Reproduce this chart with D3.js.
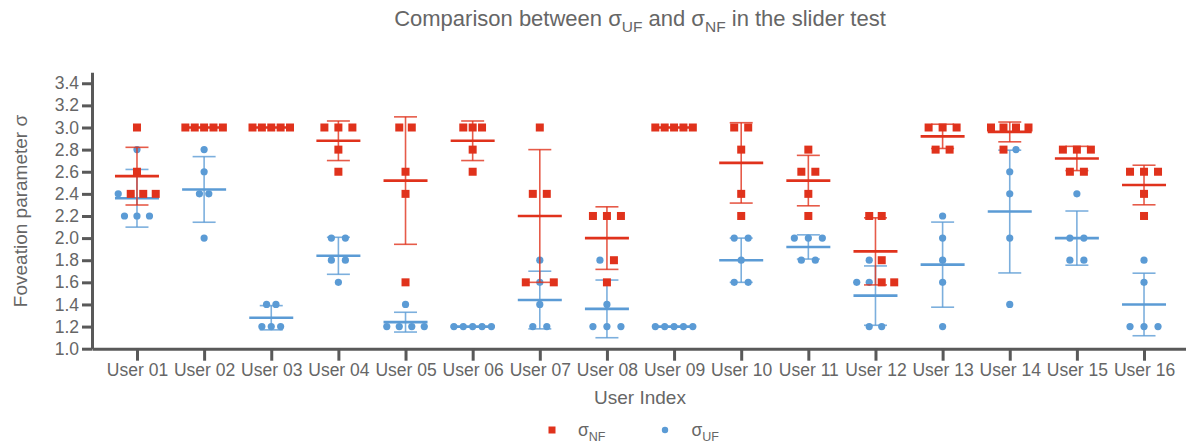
<!DOCTYPE html>
<html>
<head>
<meta charset="utf-8">
<script src="https://cdn.jsdelivr.net/npm/d3@7"></script>
<style>
  html, body { margin: 0; padding: 0; background: #fff; }
  svg { display: block; font-family: "Liberation Sans", Arial, Helvetica, sans-serif; }
</style>
</head>
<body>
<svg id="chart" width="1186" height="445"></svg>
<script>
// ---------- data ----------
const users = ["User 01","User 02","User 03","User 04","User 05","User 06","User 07","User 08",
               "User 09","User 10","User 11","User 12","User 13","User 14","User 15","User 16"];

// sigma_NF per user (5 trials each, trial order)
const nfValues = [
  [2.4, 2.4, 2.4, 3.0, 2.6],
  [3.0, 3.0, 3.0, 3.0, 3.0],
  [3.0, 3.0, 3.0, 3.0, 3.0],
  [3.0, 3.0, 3.0, 2.8, 2.6],
  [3.0, 3.0, 2.6, 2.4, 1.6],
  [3.0, 3.0, 3.0, 2.8, 2.6],
  [1.6, 3.0, 2.4, 2.4, 1.6],
  [1.8, 2.2, 2.2, 2.2, 1.6],
  [3.0, 3.0, 3.0, 3.0, 3.0],
  [3.0, 3.0, 2.8, 2.4, 2.2],
  [2.8, 2.6, 2.6, 2.4, 2.2],
  [2.2, 1.6, 1.6, 1.8, 2.2],
  [3.0, 3.0, 3.0, 2.8, 2.8],
  [2.8, 3.0, 3.0, 3.0, 3.0],
  [2.8, 2.8, 2.8, 2.6, 2.6],
  [2.6, 2.6, 2.6, 2.4, 2.2]
];

// sigma_UF per user (5 trials each, trial order)
const ufValues = [
  [2.4, 2.8, 2.2, 2.2, 2.2],
  [2.8, 2.6, 2.4, 2.4, 2.0],
  [1.4, 1.4, 1.2, 1.2, 1.2],
  [2.0, 2.0, 1.8, 1.8, 1.6],
  [1.4, 1.2, 1.2, 1.2, 1.2],
  [1.2, 1.2, 1.2, 1.2, 1.2],
  [1.8, 1.6, 1.4, 1.2, 1.2],
  [1.8, 1.4, 1.2, 1.2, 1.2],
  [1.2, 1.2, 1.2, 1.2, 1.2],
  [2.0, 2.0, 1.8, 1.6, 1.6],
  [2.0, 2.0, 2.0, 1.8, 1.8],
  [1.6, 1.6, 1.8, 1.2, 1.2],
  [2.2, 2.0, 1.8, 1.6, 1.2],
  [2.6, 2.8, 2.4, 2.0, 1.4],
  [2.4, 2.0, 2.0, 1.8, 1.8],
  [1.8, 1.6, 1.2, 1.2, 1.2]
];

const yTicks = [1.0, 1.2, 1.4, 1.6, 1.8, 2.0, 2.2, 2.4, 2.6, 2.8, 3.0, 3.2, 3.4];

// ---------- styles ----------
const RED = "#e0321c";
const BLUE = "#5b9bd5";
const AXIS = "#595959";
const TEXT = "#666666";

const svg = d3.select("#chart");

const x = d3.scalePoint().domain(users).range([92, 1189]).padding(0.67);
const y = d3.scaleLinear().domain([1.0, 3.5]).range([348.7, 72.2]);

// ---------- swarm offsets (points sharing a value are spread horizontally) ----------
const points = [];
users.forEach((u, i) => {
  const combined = [];
  for (let t = 0; t < 5; t++) {
    combined.push({ user: u, series: "UF", v: ufValues[i][t] });
    combined.push({ user: u, series: "NF", v: nfValues[i][t] });
  }
  const groups = d3.group(combined, d => d.v.toFixed(1));
  const maxCount = d3.max(Array.from(groups.values()), g => g.length);
  const s = maxCount > 1 ? Math.min(14, 37.5 / (maxCount - 1)) : 14;
  groups.forEach(g => {
    g.forEach((d, k) => { d.dx = (k - (g.length - 1) / 2) * s; points.push(d); });
  });
});

function stats(vals) {
  const m = d3.mean(vals);
  const sd = d3.deviation(vals) || 0;
  return { m, sd };
}

// ---------- axes ----------
const yAxis = svg.append("g").attr("transform", "translate(92,0)")
  .call(d3.axisLeft(y).tickValues(yTicks).tickFormat(d3.format(".1f")).tickSize(10).tickSizeOuter(0));
yAxis.select(".domain").attr("stroke", AXIS).attr("stroke-width", 3);
yAxis.selectAll(".tick line").attr("stroke", AXIS).attr("stroke-width", 3);
yAxis.selectAll(".tick text").attr("fill", TEXT).attr("font-size", "17.5px").attr("x", -13)
  .attr("font-family", "Liberation Sans, Arial, sans-serif");

const xAxis = svg.append("g").attr("transform", "translate(0,348.7)")
  .call(d3.axisBottom(x).tickSize(12).tickSizeOuter(0));
xAxis.select(".domain").attr("stroke", AXIS).attr("stroke-width", 3);
xAxis.selectAll(".tick line").attr("stroke", AXIS).attr("stroke-width", 3);
xAxis.selectAll(".tick text").attr("fill", TEXT).attr("font-size", "17.5px").attr("y", 15)
  .attr("font-family", "Liberation Sans, Arial, sans-serif");

// axis titles
svg.append("text").attr("x", 640).attr("y", 404).attr("text-anchor", "middle")
  .attr("fill", TEXT).attr("font-size", "19px").text("User Index");
svg.append("text").attr("transform", "translate(27,211) rotate(-90)").attr("text-anchor", "middle")
  .attr("fill", TEXT).attr("font-size", "19px").text("Foveation parameter σ");

// title
const title = svg.append("text").attr("x", 640).attr("y", 26).attr("text-anchor", "middle")
  .attr("fill", TEXT).attr("font-size", "22px");
title.append("tspan").text("Comparison between σ");
title.append("tspan").attr("font-size", "15.5px").attr("dy", 6).text("UF");
title.append("tspan").attr("dy", -6).text(" and σ");
title.append("tspan").attr("font-size", "15.5px").attr("dy", 6).text("NF");
title.append("tspan").attr("dy", -6).text(" in the slider test");

// ---------- series ----------
function drawSeries(key, values, color, shape) {
  const g = svg.append("g");
  users.forEach((u, i) => {
    const { m, sd } = stats(values[i]);
    const cx = x(u);
    if (sd > 0) {
      g.append("line").attr("x1", cx).attr("x2", cx).attr("y1", y(m - sd)).attr("y2", y(m + sd))
        .attr("stroke", color).attr("stroke-width", 1.6).attr("stroke-opacity", 0.8);
      [m - sd, m + sd].forEach(v => {
        g.append("line").attr("x1", cx - 11.5).attr("x2", cx + 11.5).attr("y1", y(v)).attr("y2", y(v))
          .attr("stroke", color).attr("stroke-width", 1.6).attr("stroke-opacity", 0.8);
      });
    }
    g.append("line").attr("x1", cx - 22).attr("x2", cx + 22).attr("y1", y(m)).attr("y2", y(m))
      .attr("stroke", color).attr("stroke-width", 2.6);
  });
  const pts = points.filter(d => d.series === key);
  if (shape === "square") {
    g.selectAll("rect.pt").data(pts).join("rect").attr("class", "pt")
      .attr("x", d => x(d.user) + d.dx - 4).attr("y", d => y(d.v) - 4)
      .attr("width", 8).attr("height", 8).attr("fill", color);
  } else {
    g.selectAll("circle.pt").data(pts).join("circle").attr("class", "pt")
      .attr("cx", d => x(d.user) + d.dx).attr("cy", d => y(d.v)).attr("r", 3.6).attr("fill", color);
  }
}
drawSeries("UF", ufValues, BLUE, "circle");
drawSeries("NF", nfValues, RED, "square");

// ---------- legend ----------
const legend = svg.append("g");
legend.append("rect").attr("x", 548.5).attr("y", 426.5).attr("width", 7).attr("height", 7).attr("fill", RED);
const l1 = legend.append("text").attr("x", 578).attr("y", 436).attr("fill", TEXT).attr("font-size", "17.5px");
l1.append("tspan").text("σ");
l1.append("tspan").attr("font-size", "12.5px").attr("dy", 5).text("NF");
legend.append("circle").attr("cx", 665).attr("cy", 430).attr("r", 3.2).attr("fill", BLUE);
const l2 = legend.append("text").attr("x", 691.5).attr("y", 436).attr("fill", TEXT).attr("font-size", "17.5px");
l2.append("tspan").text("σ");
l2.append("tspan").attr("font-size", "12.5px").attr("dy", 5).text("UF");
</script>
</body>
</html>
